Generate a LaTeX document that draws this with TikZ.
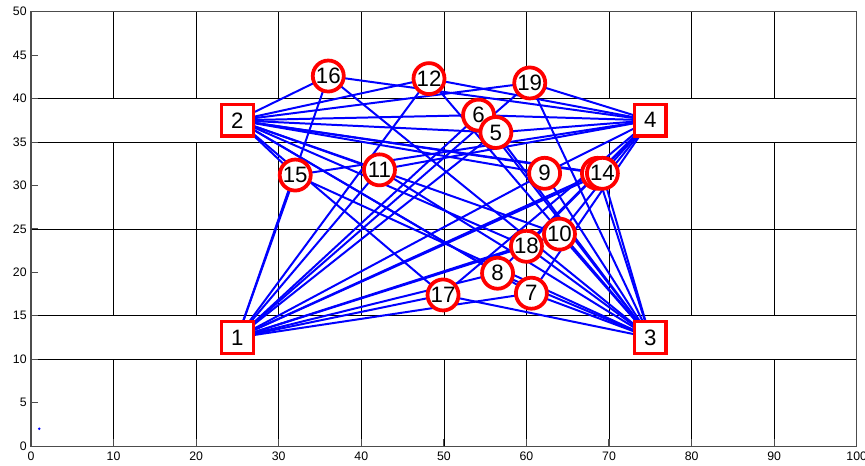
\documentclass[tikz,border=0pt]{standalone}
\usepackage{fontspec}
\setmainfont{Liberation Sans}

\tikzset{
  wall/.style={black, line width=0.6pt},
  frame/.style={gray!60!black, line width=0.9pt},
  link/.style={blue, line width=1.7pt},
  beacon/.style={draw=red, fill=white, line width=3pt, minimum size=0.95cm,
    inner sep=0pt, font=\fontsize{19}{20}\selectfont},
  sensor/.style={circle, draw=red, fill=white, line width=3.2pt, minimum size=0.93cm,
    inner sep=0pt, font=\fontsize{19}{20}\selectfont},
  ticklabel/.style={inner sep=0pt, font=\fontsize{10.5}{12}\selectfont}
}

\begin{document}
\begin{tikzpicture}[x=0.2477cm, y=0.2606cm]
  \useasboundingbox (-3.754,-2.187) rectangle (101.0,51.35);

  % floor plan
  \foreach \y in {10,15,25,35,40}
    \draw[wall] (0,\y) -- (100,\y);
  \foreach \x in {10,20,...,90} {
    \draw[wall] (\x,0) -- (\x,10);
    \draw[wall] (\x,15) -- (\x,35);
    \draw[wall] (\x,40) -- (\x,50);
  }

  % axes
  \draw[frame] (0,0) rectangle (100,50);
  \foreach \y in {0,5,...,50} {
    \draw[frame] (0,\y) -- ++(0.9,0);
    \node[ticklabel, anchor=east] at (-0.5,\y) {\y};
  }
  \foreach \x in {0,10,...,100} {
    \draw[frame] (\x,0) -- ++(0,0.8);
    \node[ticklabel, anchor=north] at (\x,-0.65) {\x};
  }
  \fill[blue] (1,2) circle (1.2pt);

  % positions
  \foreach \n/\px/\py in {1/25/12.5, 2/25/37.5, 3/75/12.5, 4/75/37.5,
      5/56.3/36.1, 6/54.2/38.1, 7/60.6/17.6, 8/56.5/19.9, 9/62.2/31.4,
      10/64.0/24.4, 11/42.2/31.8, 12/48.2/42.3, 13/68.6/31.4, 14/69.2/31.4,
      15/32.0/31.2, 16/36.0/42.6, 17/49.9/17.4, 18/60.0/23.0, 19/60.4/41.8}
    \coordinate (p\n) at (\px,\py);

  % links
  \foreach \a in {1,...,4}
    \foreach \b in {5,...,19}
      \draw[link] (p\a) -- (p\b);

  % nodes (13 sits under 14)
  \foreach \n in {1,...,4}
    \node[beacon] (n\n) at (p\n) {\n};
  \node[sensor] (n13) at (p13) {};
  \foreach \n in {6,5,7,8,9,10,11,12,14,15,16,17,18,19}
    \node[sensor] (n\n) at (p\n) {\n};
\end{tikzpicture}
\end{document}
